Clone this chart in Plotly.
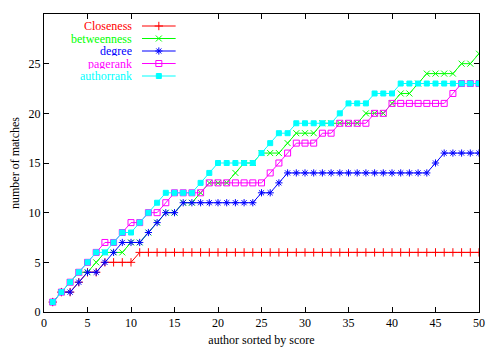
import plotly.graph_objects as go

x_rank = list(range(1, 51))

closeness = [1, 2, 2, 3, 4, 4, 5, 5, 5, 5] + [6] * 40
betweenness = [1, 2, 3, 4, 4, 5, 6, 6, 6, 7,
               7, 8, 9, 10, 10, 11, 11, 12, 13, 13,
               13, 14, 15, 15, 16, 16, 16, 17, 18, 18,
               18, 19, 19, 19, 19, 19, 20, 20, 20, 21,
               22, 22, 23, 24, 24, 24, 24, 25, 25, 26]
degree = [1, 2, 2, 3, 4, 4, 5, 6, 7, 7,
          7, 8, 9, 10, 10, 11, 11, 11, 11, 11,
          11, 11, 11, 11, 12, 12, 13, 14, 14, 14,
          14, 14, 14, 14, 14, 14, 14, 14, 14, 14,
          14, 14, 14, 14, 15, 16, 16, 16, 16, 16]
pagerank = [1, 2, 3, 4, 5, 6, 7, 7, 8, 9,
            9, 10, 10, 11, 12, 12, 12, 12, 13, 13,
            13, 13, 13, 13, 13, 14, 15, 16, 17, 17,
            17, 18, 18, 19, 19, 19, 19, 20, 20, 21,
            21, 21, 21, 21, 21, 21, 22, 23, 23, 23]
authorrank = [1, 2, 3, 4, 5, 6, 6, 7, 8, 8,
              9, 10, 11, 12, 12, 12, 12, 13, 14, 15,
              15, 15, 15, 15, 16, 17, 18, 18, 19, 19,
              19, 19, 19, 20, 21, 21, 21, 22, 22, 22,
              23, 23, 23, 23, 23, 23, 23, 23, 23, 23]

series_names = ["Closeness", "betweenness", "degree", "pagerank", "authorrank"]
series_values = [closeness, betweenness, degree, pagerank, authorrank]
colors = ["#ff0000", "#00ff00", "#0000ff", "#ff00ff", "#00ffff"]
symbols = ["cross-thin-open", "x-thin-open", "asterisk-open", "square-open", "square"]
sizes = [6, 6, 6, 6, 5]

x_ticks = [0, 5, 10, 15, 20, 25, 30, 35, 40, 45, 50]
y_ticks = [0, 5, 10, 15, 20, 25, 30]

FONT = "Liberation Serif"

fig = go.Figure()

for name, vals, col, sym, sz in zip(series_names, series_values, colors, symbols, sizes):
    fig.add_trace(go.Scatter(
        x=x_rank, y=vals, mode="lines+markers", name=name,
        line=dict(color=col, width=1),
        marker=dict(symbol=sym, size=sz, color=col,
                    line=dict(color=col, width=1)),
        showlegend=False, xaxis="x", yaxis="y",
    ))

# gnuplot-style key: text on the left, sample on the right
for i, (name, col, sym, sz) in enumerate(zip(series_names, colors, symbols, sizes)):
    fig.add_trace(go.Scatter(
        x=[0, 0.5, 1], y=[i, i, i], mode="lines",
        line=dict(color=col, width=1), showlegend=False, hoverinfo="skip",
        xaxis="x2", yaxis="y2",
    ))
    fig.add_trace(go.Scatter(
        x=[0.5], y=[i], mode="markers",
        marker=dict(symbol=sym, size=sz, color=col,
                    line=dict(color=col, width=1)),
        showlegend=False, hoverinfo="skip", xaxis="x2", yaxis="y2",
    ))
    fig.add_annotation(
        x=0, y=i, xref="x2", yref="y2", text=name, showarrow=False,
        xanchor="right", yanchor="middle", xshift=-8, height=10,
        font=dict(family=FONT, size=12, color=col),
    )

axis_common = dict(
    showline=True, linecolor="black", linewidth=1, mirror="ticks",
    ticks="inside", ticklen=5, tickcolor="black", tickwidth=1,
    showgrid=False, zeroline=False, automargin=False,
    tickfont=dict(family=FONT, size=12, color="black"),
)

fig.update_layout(
    width=492, height=342,
    margin=dict(l=36, r=21, t=6, b=38),
    paper_bgcolor="white", plot_bgcolor="white",
    showlegend=False,
    font=dict(family=FONT, size=12, color="black"),
    xaxis=dict(range=[0, 50], tickvals=x_ticks, domain=[0, 1],
               title=dict(text="author sorted by score", standoff=6,
                          font=dict(family=FONT, size=12, color="black")),
               **axis_common),
    yaxis=dict(range=[0, 30], tickvals=y_ticks, domain=[0, 1],
               title=dict(text="number of matches", standoff=10,
                          font=dict(family=FONT, size=12, color="black")),
               **axis_common),
    xaxis2=dict(domain=[0.225, 0.303], range=[0, 1], visible=False,
                anchor="y2", fixedrange=True),
    yaxis2=dict(domain=[0.75, 1.0], range=[5.0, -0.96], visible=False,
                anchor="x2", fixedrange=True),
)

fig.write_html("out.html")
